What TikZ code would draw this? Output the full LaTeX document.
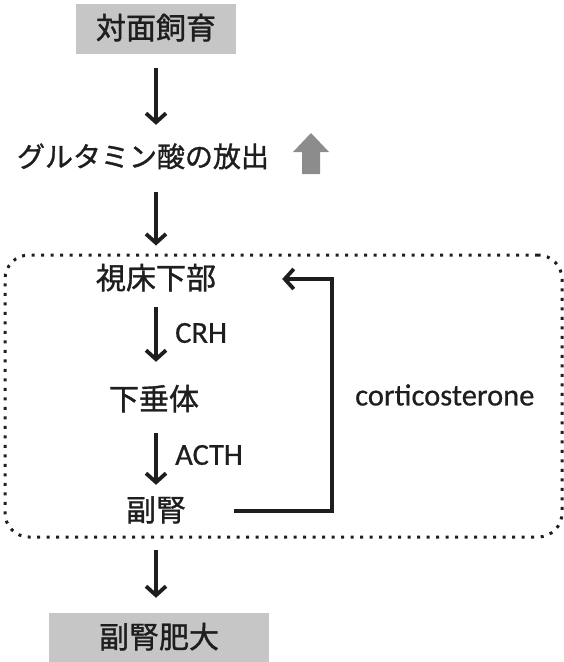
\documentclass[tikz,border=0pt]{standalone}
\usepackage{fontspec}
\newfontfamily\jpfont[FakeBold=1.2]{Noto Sans CJK JP}
\newfontfamily\latfont[FakeBold=0.6]{Carlito}
\usetikzlibrary{arrows.meta}
\definecolor{boxgray}{RGB}{198,198,198}
\definecolor{upgray}{RGB}{140,140,140}
\definecolor{ink}{RGB}{30,30,30}
\tikzset{
  jp/.style={font=\jpfont\fontsize{30}{30}\selectfont, text=ink, inner sep=0pt, text height=24pt, text depth=4pt},
  lat/.style={font=\latfont\fontsize{30.5}{30.5}\selectfont, text=ink, inner sep=0pt, anchor=west},
  graybox/.style={jp, fill=boxgray, draw=none},
  flow/.style={draw=ink, line width=3.8pt, -{Straight Barb[length=9pt,width=20pt,line width=3.8pt]}},
  loopbox/.style={draw=ink, line width=3pt, dash pattern=on 3pt off 6.5pt, rounded corners=24pt, minimum width=557pt, minimum height=282pt, inner sep=0pt},
}
\begin{document}
\begin{tikzpicture}[x=1pt,y=-1pt]
\useasboundingbox (0,0) rectangle (563,662);
\coordinate (ax) at (156,0);
\coordinate (fbx) at (332,0);
\node[graybox, minimum width=160pt, minimum height=50pt] (top) at (156,29) {対面飼育};
\node[jp, font=\jpfont\fontsize{28}{28}\selectfont] (glu) at (143,157) {グルタミン酸の放出};
\fill[upgray] (293,152) -- (311,133) -- (329,152) -- (320,152) -- (320,174) -- (302,174) -- (302,152) -- cycle;
\node[loopbox] (loop) at (283.5,396) {};
\node[jp] (hypo) at (156,279) {視床下部};
\node[jp] (pit) at (154,400) {下垂体};
\node[jp] (adr) at (156,511) {副腎};
\node[graybox, minimum width=220pt, minimum height=50pt] (bot) at (159,638) {副腎肥大};
\node[lat] (crh) at (175,333) {CRH};
\node[lat] (acth) at (175,455) {ACTH};
\node[lat] (cort) at (355,395) {corticosterone};
\draw[flow, shorten <=14pt, shorten >=18pt] (top.south -| ax) -- (glu.north -| ax);
\draw[flow, shorten <=21pt, shorten >=8pt] (glu.south -| ax) -- (loop.north -| ax);
\draw[flow, shorten <=14pt, shorten >=24pt] (hypo.south -| ax) -- (pit.north -| ax);
\draw[flow, shorten <=19pt, shorten >=12pt] (pit.south -| ax) -- (adr.north -| ax);
\draw[flow, shorten <=11pt, shorten >=15pt] (loop.south -| ax) -- (bot.north -| ax);
\draw[flow, shorten <=48pt, shorten >=66pt] (adr.east) -- (adr.east -| fbx) -- (hypo.east -| fbx) -- (hypo.east);
\end{tikzpicture}
\end{document}
